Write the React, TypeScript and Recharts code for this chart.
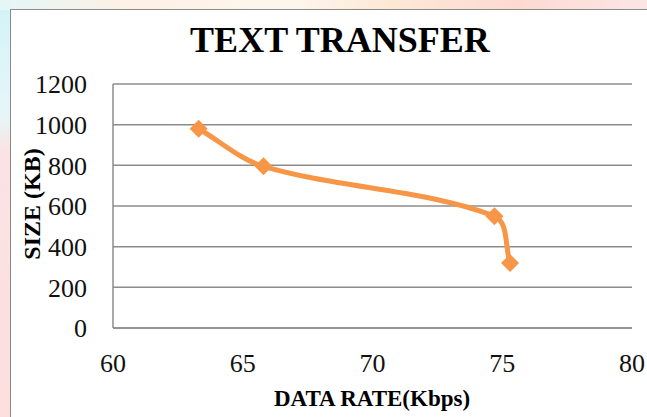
import React from 'react'
import { CartesianGrid, Line, LineChart, XAxis, YAxis } from 'recharts'

const rates = [63.3, 65.8, 74.7, 75.3]
const sizes = [980, 795, 550, 320]
const xTicks = [60, 65, 70, 75, 80]
const yTicks = [0, 200, 400, 600, 800, 1000, 1200]

const data = rates.map((r, i) => ({ rate: r, size: sizes[i] }))

const serif = '"Liberation Serif", "Times New Roman", serif'

const dist = (a: number[], b: number[]) => Math.hypot(b[0] - a[0], b[1] - a[1])

// office-style smoothed line: tangents weighted by neighbouring segment lengths
const smoothCurve = (context: any) => {
    let pts: number[][] = []
    return {
        areaStart() {},
        areaEnd() {},
        lineStart() { pts = [] },
        point(x: number, y: number) { pts.push([+x, +y]) },
        lineEnd() {
            if (!pts.length) return
            context.moveTo(pts[0][0], pts[0][1])
            for (let i = 0; i < pts.length - 1; i++) {
                const p0 = pts[i - 1] || pts[i]
                const p1 = pts[i]
                const p2 = pts[i + 1]
                const p3 = pts[i + 2] || pts[i + 1]
                const d01 = dist(p0, p1)
                const d12 = dist(p1, p2)
                const d23 = dist(p2, p3)
                const f1 = d12 / (d01 + d12) / 3
                const f2 = d12 / (d12 + d23) / 3
                context.bezierCurveTo(
                    p1[0] + (p2[0] - p0[0]) * f1, p1[1] + (p2[1] - p0[1]) * f1,
                    p2[0] - (p3[0] - p1[0]) * f2, p2[1] - (p3[1] - p1[1]) * f2,
                    p2[0], p2[1],
                )
            }
        },
    }
}

const Diamond = (props: any) => {
    const { cx, cy, index } = props
    const s = 9
    return (
        <path
            key={'d' + index}
            d={`M${cx},${cy - s}L${cx + s},${cy}L${cx},${cy + s}L${cx - s},${cy}Z`}
            fill="#F79646"
        />
    )
}

const App: React.FC = () => {
    return (
        <div style={{
            position: 'absolute', left: 0, top: 0, width: 647, height: 417, overflow: 'hidden',
            background: 'linear-gradient(180deg, #d2f3f8 0%, #e6f6f8 28%, #fbe3e3 36%, #fddede 100%)',
        }}>
            <div style={{
                position: 'absolute', left: 0, top: 0, width: 647, height: 10,
                background: 'linear-gradient(90deg, #e4f6f8 0%, #fdf1e4 20%, #fef6ee 45%, #fde9d6 60%, #fdd9d2 80%, #fbe6e6 100%)',
            }} />
            {/* chart frame */}
            <div style={{
                position: 'absolute', left: 10, top: 9, width: 700, height: 500,
                background: '#fff', border: '1.5px solid #8a8a8a',
            }} />
            <div style={{ position: 'absolute', left: 0, top: 0 }}>
                <LineChart width={647} height={417} data={data}
                    margin={{ top: 84, right: 15, left: 53, bottom: 59 }}>
                    <CartesianGrid vertical={false} stroke="#8c8c8c" strokeWidth={1.5} />
                    <XAxis type="number" dataKey="rate" domain={[60, 80]} ticks={xTicks}
                        height={30} tickLine={false} axisLine={{ stroke: '#8c8c8c', strokeWidth: 1.5 }}
                        tickSize={0} tickMargin={26}
                        tick={{ fill: '#111', fontSize: 26, fontFamily: serif }} />
                    <YAxis type="number" domain={[0, 1200]} ticks={yTicks}
                        width={60} tickLine={false} axisLine={{ stroke: '#8c8c8c', strokeWidth: 1.5 }}
                        tickSize={0} tickMargin={26}
                        tick={{ fill: '#111', fontSize: 26, fontFamily: serif }} />
                    <Line type={smoothCurve as any} dataKey="size" stroke="#F79646" strokeWidth={5}
                        dot={Diamond} activeDot={false} isAnimationActive={false} />
                </LineChart>
            </div>
            <svg width={647} height={417} style={{ position: 'absolute', left: 0, top: 0, pointerEvents: 'none' }}>
                <text x={340} y={52} textAnchor="middle" fontFamily={serif} fontWeight="bold" fontSize={36} fill="#000">
                    TEXT TRANSFER
                </text>
                <text x={372} y={406} textAnchor="middle" fontFamily={serif} fontWeight="bold" fontSize={23} fill="#000">
                    DATA RATE(Kbps)
                </text>
                <text x={40} y={204} transform="rotate(-90, 40, 204)" textAnchor="middle"
                    fontFamily={serif} fontWeight="bold" fontSize={24} fill="#000">
                    SIZE (KB)
                </text>
            </svg>
        </div>
    )
}

export default App
